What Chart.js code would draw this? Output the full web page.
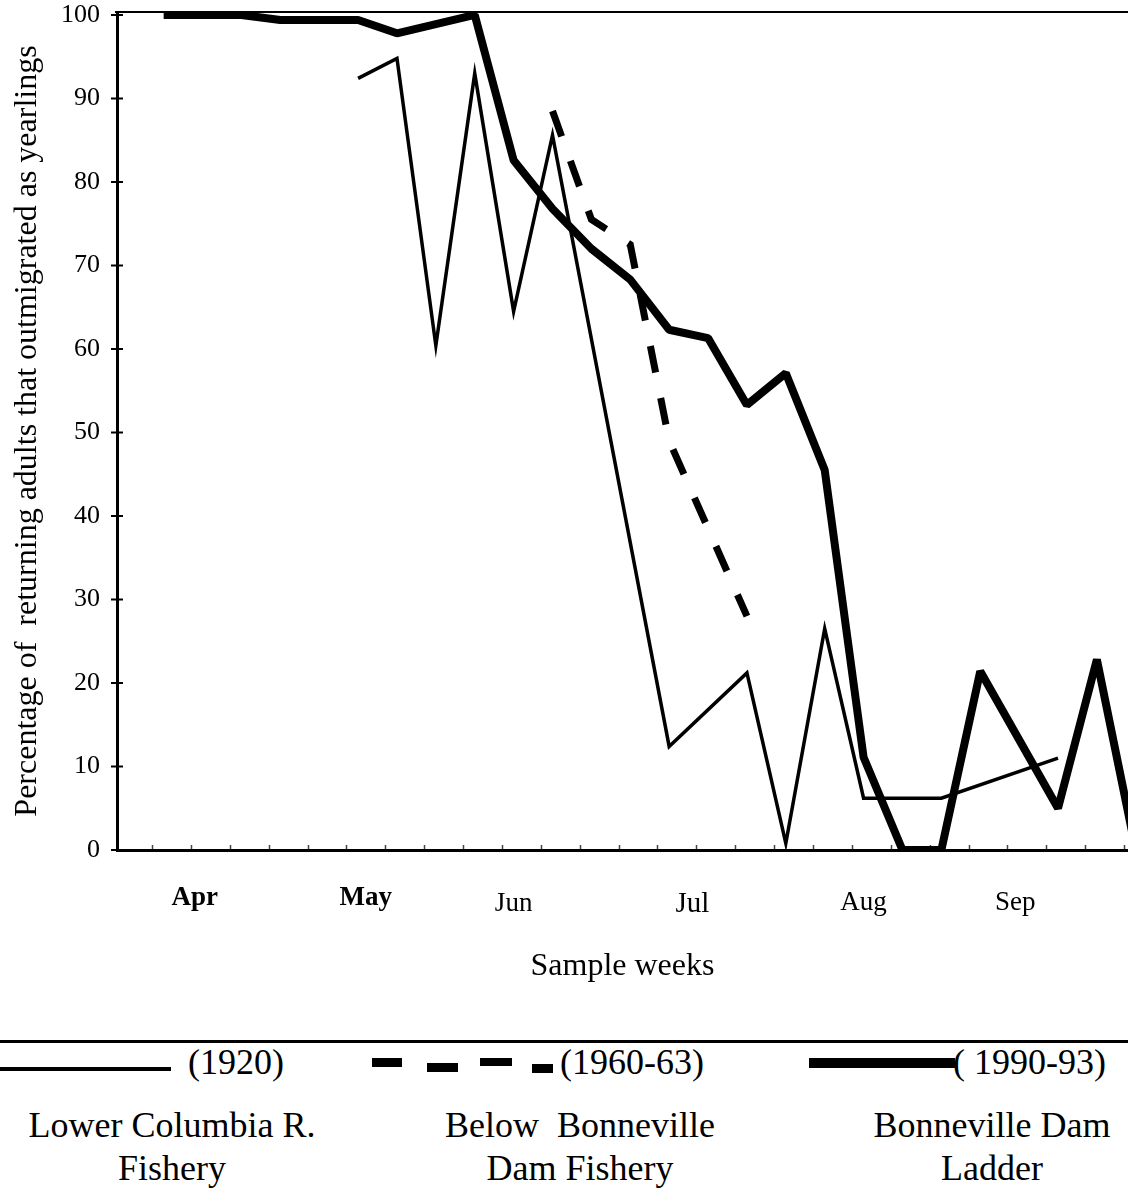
<!DOCTYPE html>
<html>
<head>
<meta charset="utf-8">
<script src="https://cdn.jsdelivr.net/npm/chart.js@4.4.0/dist/chart.umd.min.js"></script>
<style>
  body { margin: 0; background: #fff; }
  #page { position: relative; width: 1128px; height: 1200px; overflow: hidden; font-family: "Liberation Serif", "Times New Roman", serif; color: #000; }
  #chart { position: absolute; left: 0; top: 0; }
  .rule { position: absolute; left: 0; top: 1040px; width: 1128px; height: 3px; background: #000; }
  .swatch { position: absolute; background: #000; }
  .year { position: absolute; top: 1044px; font-size: 36px; line-height: 36px; white-space: pre; }
  .name { position: absolute; top: 1104px; font-size: 36px; line-height: 43px; text-align: center; white-space: pre; }
</style>
</head>
<body>
<div id="page">
  <canvas id="chart" width="1128" height="1010"></canvas>

  <div class="rule"></div>

  <!-- line keys -->
  <div class="swatch" style="left:0;top:1067px;width:171px;height:4px"></div>
  <div class="swatch" style="left:372px;top:1058px;width:30px;height:9px"></div>
  <div class="swatch" style="left:427px;top:1063px;width:31px;height:9px"></div>
  <div class="swatch" style="left:480px;top:1058px;width:32px;height:8px"></div>
  <div class="swatch" style="left:532px;top:1064px;width:21px;height:9px"></div>
  <div class="swatch" style="left:809px;top:1058px;width:146px;height:10px"></div>

  <div class="year" id="year0" style="left:188px"></div>
  <div class="year" id="year1" style="left:560px"></div>
  <div class="year" id="year2" style="left:953px"></div>

  <div class="name" id="name0" style="left:0;width:344px"></div>
  <div class="name" id="name1" style="left:380px;width:400px"></div>
  <div class="name" id="name2" style="left:842px;width:300px"></div>
</div>

<script>
const SERIF = "'Liberation Serif', 'Times New Roman', serif";

// sample weeks (week 1 = first April sample) and percentages
const weeks1920 = [6, 7, 8, 9, 10, 11, 14, 16, 17, 18, 19, 21, 24];
const pct1920 = [92.4, 94.8, 60.4, 93, 64.5, 85.6, 12.4, 21.2, 0.8, 26.5, 6.2, 6.2, 11];

const weeks1960 = [11, 12, 13, 14, 16];
const pct1960 = [88.5, 75.5, 72.5, 49, 28];

const weeks1990 = [1, 3, 4, 6, 7, 9, 10, 11, 12, 13, 14, 15, 16, 17, 18, 19, 20, 21, 22, 24, 25, 26];
const pct1990 = [100, 100, 99.4, 99.4, 97.8, 100, 82.6, 76.8, 72, 68.3, 62.3, 61.3, 53.3, 57.1, 45.5, 11.1, 0, 0, 21.4, 5, 22.8, 0];

const seriesYears = ['(1920)', '(1960-63)', '( 1990-93)'];
const seriesNames = [
  ['Lower Columbia R.', 'Fishery'],
  ['Below  Bonneville', 'Dam Fishery'],
  ['Bonneville Dam', 'Ladder']
];

const monthNames = ['Apr', 'May', 'Jun', 'Jul', 'Aug', 'Sep'];
const monthWeeks = [1.8, 6.2, 10.0, 14.6, 19.0, 22.9];

const yTicks = [0, 10, 20, 30, 40, 50, 60, 70, 80, 90, 100];

// weekly marks along the time axis
const weekTicks = Array.from({ length: 26 }, (_, i) => i + 0.7);

// month label fonts (lineHeight used to sit each label on its own baseline)
const monthFonts = [
  { family: SERIF, size: 27, weight: 'bold', lineHeight: '36px' },
  { family: SERIF, size: 27, weight: 'bold', lineHeight: '36px' },
  { family: SERIF, size: 27, weight: 'normal', lineHeight: '48px' },
  { family: SERIF, size: 29, weight: 'normal', lineHeight: '48px' },
  { family: SERIF, size: 27, weight: 'normal', lineHeight: '46px' },
  { family: SERIF, size: 27, weight: 'normal', lineHeight: '46px' }
];

function toPoints(xs, ys) {
  return xs.map((x, i) => ({ x: x, y: ys[i] }));
}

// fill in the legend text below the chart
seriesYears.forEach((t, i) => { document.getElementById('year' + i).textContent = t; });
seriesNames.forEach((lines, i) => { document.getElementById('name' + i).textContent = lines.join('\n'); });

// top edge of the box plus the small tick marks on both axes
const framePlugin = {
  id: 'frame',
  beforeDatasetsDraw(chart) {
    const { ctx, chartArea, scales } = chart;
    const { left, right, top, bottom } = chartArea;
    ctx.save();
    ctx.strokeStyle = '#000';
    ctx.lineWidth = 2;
    ctx.beginPath();
    ctx.moveTo(left - 2, top);
    ctx.lineTo(right, top);
    ctx.stroke();

    ctx.lineWidth = 1.5;
    ctx.strokeStyle = '#444';
    ctx.beginPath();
    weekTicks.forEach(w => {
      const px = Math.round(scales.x.getPixelForValue(w)) + 0.5;
      ctx.moveTo(px, bottom - 1);
      ctx.lineTo(px, bottom - 5);
    });
    ctx.stroke();

    ctx.strokeStyle = '#000';
    ctx.lineWidth = 2;
    ctx.beginPath();
    yTicks.forEach(v => {
      const py = scales.y.getPixelForValue(v);
      ctx.moveTo(left - 6, py);
      ctx.lineTo(left + 6, py);
    });
    ctx.stroke();
    ctx.restore();
  }
};

new Chart(document.getElementById('chart'), {
  type: 'line',
  data: {
    datasets: [
      {
        label: seriesNames[0].join(' ') + ' ' + seriesYears[0],
        data: toPoints(weeks1920, pct1920),
        borderColor: '#000',
        borderWidth: 3.5,
        borderJoinStyle: 'miter',
        pointRadius: 0,
        tension: 0
      },
      {
        label: seriesNames[1].join(' ') + ' ' + seriesYears[1],
        data: toPoints(weeks1960, pct1960),
        borderColor: '#000',
        borderWidth: 7,
        borderDash: [27, 26],
        borderCapStyle: 'butt',
        borderJoinStyle: 'miter',
        pointRadius: 0,
        tension: 0
      },
      {
        label: seriesNames[2].join(' ') + ' ' + seriesYears[2],
        data: toPoints(weeks1990, pct1990),
        borderColor: '#000',
        borderWidth: 8,
        borderJoinStyle: 'bevel',
        pointRadius: 0,
        tension: 0
      }
    ]
  },
  options: {
    responsive: false,
    animation: false,
    devicePixelRatio: 1,
    layout: { padding: { top: 12, left: 0, right: 0, bottom: 0 } },
    plugins: {
      legend: { display: false },
      tooltip: { enabled: false }
    },
    scales: {
      x: {
        type: 'linear',
        min: -0.2,
        max: 25.8,
        afterBuildTicks: scale => { scale.ticks = monthWeeks.map(v => ({ value: v })); },
        afterFit: scale => {
          scale.height = 160;
          scale.paddingLeft = 0;
          scale.paddingRight = 0;
        },
        grid: { display: true, drawOnChartArea: false, drawTicks: false },
        border: { display: true, color: '#000', width: 3 },
        ticks: {
          autoSkip: false,
          maxRotation: 0,
          padding: 30,
          color: '#000',
          font: ctx => monthFonts[ctx.index] || monthFonts[0],
          callback: (value, index) => monthNames[index]
        },
        title: {
          display: true,
          text: 'Sample weeks',
          color: '#000',
          font: { family: SERIF, size: 32 },
          padding: { top: 0, bottom: 24 }
        }
      },
      y: {
        type: 'linear',
        min: 0,
        max: 100.35,
        afterBuildTicks: scale => { scale.ticks = yTicks.map(v => ({ value: v })); },
        afterFit: scale => {
          scale.width = 117;
          scale.paddingTop = 0;
          scale.paddingBottom = 0;
        },
        grid: { display: true, drawOnChartArea: false, drawTicks: false },
        border: { display: true, color: '#000', width: 3 },
        ticks: {
          padding: 17,
          color: '#000',
          font: { family: SERIF, size: 26, lineHeight: 1 }
        },
        title: {
          display: true,
          text: 'Percentage of  returning adults that outmigrated as yearlings',
          color: '#000',
          font: { family: SERIF, size: 32 },
          padding: { top: 8, bottom: 0 }
        }
      }
    }
  },
  plugins: [framePlugin]
});
</script>
</body>
</html>
